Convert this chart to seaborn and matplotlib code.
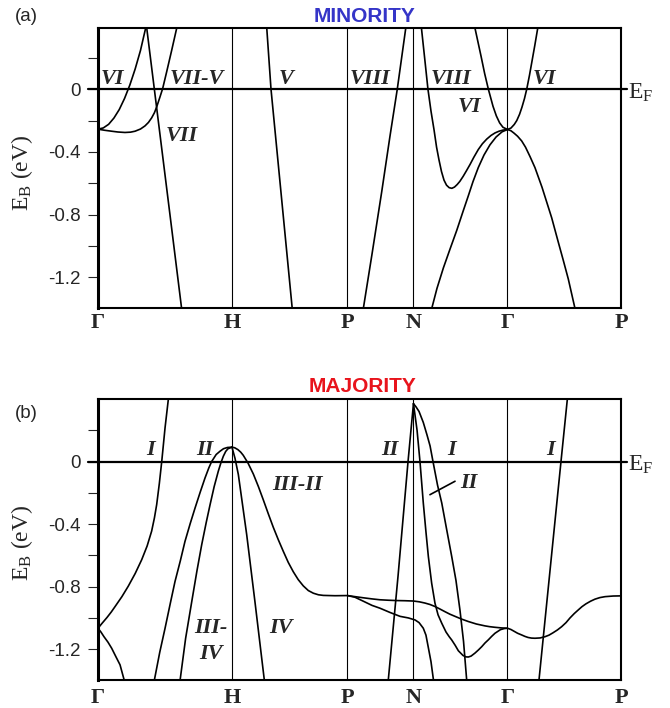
import matplotlib
matplotlib.use("Agg")
import matplotlib.pyplot as plt
import numpy as np
import pandas as pd
import seaborn as sns

# ---------------- data ----------------
SYM_LABELS = ["Γ", "H", "P", "N", "Γ", "P"]
SYM_K = [0.0, 1.009, 1.879, 2.376, 3.084, 3.939]

YTICKS = [0.2, 0.0, -0.2, -0.4, -0.6, -0.8, -1.0, -1.2]
YTICK_LABELS = ["", "0", "", "-0.4", "", "-0.8", "", "-1.2"]

# ---- (a) minority bands ----
a_VI_k = [0.0, 0.04, 0.08, 0.12, 0.16, 0.20, 0.24, 0.28, 0.32, 0.359]
a_VI_E = [-0.255, -0.247, -0.224, -0.184, -0.130, -0.059, 0.027, 0.129, 0.247, 0.39]

a_VII_k = [0.367, 0.542, 0.630]
a_VII_E = [0.39, -0.80, -1.40]

a_VIIV_k = [0.0, 0.05, 0.103, 0.15, 0.203, 0.245, 0.279, 0.32, 0.354, 0.38, 0.404,
            0.425, 0.442, 0.467, 0.487, 0.517, 0.555, 0.593]
a_VIIV_E = [-0.255, -0.262, -0.268, -0.273, -0.276, -0.274, -0.268, -0.254, -0.234,
            -0.212, -0.183, -0.15, -0.113, -0.049, 0.004, 0.11, 0.248, 0.39]

a_V_k = [1.271, 1.303, 1.463]
a_V_E = [0.39, 0.0, -1.40]

a_VIIIL_k = [1.998, 2.064, 2.137, 2.199, 2.254, 2.318]
a_VIIIL_E = [-1.40, -1.05, -0.653, -0.30, 0.0, 0.39]

a_VIIIR_k = [2.436, 2.460, 2.485, 2.508, 2.531, 2.550, 2.568, 2.587, 2.606, 2.625,
             2.645, 2.665, 2.685, 2.705, 2.725, 2.750, 2.775, 2.802, 2.830, 2.864,
             2.895, 2.928, 2.960, 2.990, 3.020, 3.050, 3.084]
a_VIIIR_E = [0.39, 0.20, 0.0, -0.14, -0.26, -0.37, -0.45, -0.525, -0.58, -0.612,
             -0.628, -0.632, -0.624, -0.608, -0.588, -0.556, -0.52, -0.48, -0.435, -0.385,
             -0.348, -0.318, -0.295, -0.279, -0.268, -0.261, -0.257]

a_low_k = [2.513, 2.553, 2.601, 2.651, 2.702, 2.749, 2.789, 2.824, 2.864, 2.907,
           2.952, 2.998, 3.043, 3.084]
a_low_E = [-1.40, -1.27, -1.14, -1.02, -0.90, -0.78, -0.68, -0.59, -0.50, -0.42,
           -0.355, -0.305, -0.272, -0.257]

a_down_k = [3.084, 3.110, 3.133, 3.160, 3.191, 3.220, 3.254, 3.291, 3.344, 3.417,
            3.465, 3.504, 3.542, 3.593]
a_down_E = [-0.257, -0.265, -0.28, -0.30, -0.33, -0.37, -0.43, -0.50, -0.625, -0.82,
            -0.97, -1.09, -1.21, -1.40]

a_VIG_k = [2.839, 2.862, 2.885, 2.912, 2.940, 2.975, 3.000, 3.025, 3.050, 3.084,
           3.110, 3.135, 3.154, 3.175, 3.193, 3.212, 3.229, 3.250, 3.269, 3.290, 3.312]
a_VIG_E = [0.39, 0.30, 0.21, 0.10, 0.0, -0.109, -0.17, -0.215, -0.243, -0.257,
           -0.248, -0.225, -0.20, -0.16, -0.115, -0.06, 0.0, 0.09, 0.18, 0.28, 0.39]

# ---- (b) majority bands ----
b_I_k = [0.0, 0.03, 0.068, 0.10, 0.128, 0.18, 0.228, 0.28, 0.329, 0.37, 0.404,
         0.425, 0.442, 0.462, 0.480, 0.505, 0.530]
b_I_E = [-1.066, -1.035, -0.997, -0.962, -0.928, -0.864, -0.797, -0.716, -0.628, -0.54,
         -0.445, -0.36, -0.275, -0.14, 0.0, 0.216, 0.40]

b_down_k = [0.0, 0.022, 0.045, 0.075, 0.103, 0.136, 0.166, 0.198]
b_down_E = [-1.066, -1.09, -1.12, -1.155, -1.194, -1.25, -1.30, -1.40]

b_II_k = [0.424, 0.465, 0.505, 0.545, 0.580, 0.620, 0.655, 0.695, 0.731, 0.770,
          0.806, 0.835, 0.856, 0.890, 0.919, 0.945, 0.975, 1.009]
b_II_E = [-1.40, -1.22, -1.066, -0.905, -0.767, -0.635, -0.511, -0.395, -0.297, -0.195,
          -0.105, -0.04, 0.0, 0.045, 0.066, 0.082, 0.09, 0.092]

b_IIIIV_k = [0.618, 0.660, 0.706, 0.745, 0.781, 0.815, 0.844, 0.875, 0.906, 0.925,
             0.944, 0.962, 0.979, 1.009]
b_IIIIV_E = [-1.40, -1.13, -0.896, -0.70, -0.532, -0.39, -0.276, -0.16, -0.062, -0.01,
             0.034, 0.065, 0.082, 0.092]

b_IIIII_k = [1.009, 1.030, 1.054, 1.075, 1.094, 1.130, 1.170, 1.208, 1.245, 1.283,
             1.320, 1.358, 1.396, 1.433, 1.471, 1.508, 1.546, 1.584, 1.622, 1.660,
             1.697, 1.785, 1.879]
b_IIIII_E = [0.092, 0.088, 0.076, 0.06, 0.04, -0.01, -0.08, -0.16, -0.245, -0.335,
             -0.42, -0.50, -0.575, -0.645, -0.705, -0.755, -0.795, -0.825, -0.842, -0.852,
             -0.856, -0.858, -0.857]

b_IV_k = [1.009, 1.032, 1.057, 1.120, 1.182, 1.253]
b_IV_E = [0.092, 0.02, -0.083, -0.468, -0.896, -1.40]

b_flat_k = [1.879, 1.936, 1.996, 2.060, 2.124, 2.190, 2.250, 2.310, 2.376, 2.420,
            2.463, 2.500, 2.538, 2.575, 2.613, 2.650, 2.689, 2.740, 2.789, 2.850,
            2.915, 2.950, 2.990, 3.040, 3.084, 3.110, 3.133, 3.160, 3.191, 3.215,
            3.239, 3.265, 3.291, 3.330, 3.367, 3.397, 3.427, 3.460, 3.492, 3.525,
            3.555, 3.587, 3.617, 3.645, 3.675, 3.710, 3.743, 3.780, 3.819, 3.880, 3.939]
b_flat_E = [-0.857, -0.864, -0.871, -0.878, -0.884, -0.887, -0.889, -0.890, -0.892, -0.897,
            -0.905, -0.914, -0.927, -0.943, -0.96, -0.976, -0.99, -1.008, -1.023, -1.039,
            -1.051, -1.056, -1.06, -1.064, -1.066, -1.074, -1.085, -1.098, -1.109, -1.118,
            -1.125, -1.129, -1.13, -1.128, -1.12, -1.11, -1.095, -1.077, -1.056, -1.03,
            -1.0, -0.972, -0.949, -0.928, -0.91, -0.893, -0.88, -0.87, -0.864, -0.86, -0.859]

b_low_k = [1.879, 1.936, 1.998, 2.064, 2.124, 2.199, 2.275, 2.337, 2.388, 2.418,
           2.450, 2.470, 2.488, 2.508, 2.527]
b_low_E = [-0.857, -0.868, -0.893, -0.92, -0.938, -0.965, -0.99, -1.0, -1.013, -1.03,
           -1.066, -1.11, -1.19, -1.28, -1.40]

b_IIL_k = [2.186, 2.260, 2.335, 2.357, 2.376]
b_IIL_E = [-1.40, -0.73, 0.0, 0.2, 0.37]

b_II2_k = [2.376, 2.403, 2.425, 2.450, 2.470, 2.488, 2.513, 2.538, 2.561, 2.589,
           2.621, 2.645, 2.664, 2.690, 2.714, 2.749, 2.770, 2.789, 2.810, 2.839,
           2.865, 2.890, 2.915, 2.940, 2.965, 2.990, 3.031, 3.060, 3.084]
b_II2_E = [0.37, 0.2, 0.0, -0.265, -0.45, -0.607, -0.778, -0.906, -0.98, -1.034,
           -1.09, -1.12, -1.141, -1.175, -1.21, -1.24, -1.249, -1.25, -1.244, -1.225,
           -1.205, -1.184, -1.16, -1.14, -1.118, -1.098, -1.075, -1.068, -1.066]

b_IN_k = [2.376, 2.395, 2.418, 2.450, 2.478, 2.501, 2.523, 2.557, 2.589, 2.625,
          2.664, 2.696, 2.726, 2.753, 2.777]
b_IN_E = [0.37, 0.35, 0.32, 0.25, 0.17, 0.10, 0.0, -0.15, -0.265, -0.43,
          -0.607, -0.76, -0.949, -1.15, -1.40]

b_IG_k = [3.321, 3.487, 3.535]
b_IG_E = [-1.40, 0.0, 0.40]

# band labels: (text, k, E)
A_LABELS = [("VI", 0.105, 0.03), ("VII-V", 0.746, 0.03), ("VII", 0.633, -0.33),
            ("V", 1.416, 0.03), ("VIII", 2.049, 0.03), ("VIII", 2.659, 0.03),
            ("VI", 2.794, -0.145), ("VI", 3.359, 0.03)]
B_LABELS = [("I", 0.399, 0.045), ("II", 0.806, 0.045), ("III-II", 1.506, -0.179),
            ("III-", 0.851, -1.098), ("IV", 0.851, -1.265), ("IV", 1.378, -1.098),
            ("II", 2.199, 0.045), ("I", 2.666, 0.045), ("II", 2.787, -0.169),
            ("I", 3.412, 0.045)]
B_POINTER_k = [2.689, 2.500]
B_POINTER_E = [-0.126, -0.212]


def band_frame(bands):
    parts = [pd.DataFrame({"k": ks, "E": es, "band": name}) for name, ks, es in bands]
    return pd.concat(parts, ignore_index=True)


df_a = band_frame([
    ("VI", a_VI_k, a_VI_E), ("VII", a_VII_k, a_VII_E), ("VII-V", a_VIIV_k, a_VIIV_E),
    ("V", a_V_k, a_V_E), ("VIIIL", a_VIIIL_k, a_VIIIL_E), ("VIIIR", a_VIIIR_k, a_VIIIR_E),
    ("low", a_low_k, a_low_E), ("down", a_down_k, a_down_E), ("VIG", a_VIG_k, a_VIG_E),
])
df_b = band_frame([
    ("I", b_I_k, b_I_E), ("down", b_down_k, b_down_E), ("II", b_II_k, b_II_E),
    ("III-IV", b_IIIIV_k, b_IIIIV_E), ("III-II", b_IIIII_k, b_IIIII_E), ("IV", b_IV_k, b_IV_E),
    ("flat", b_flat_k, b_flat_E), ("low", b_low_k, b_low_E), ("IIL", b_IIL_k, b_IIL_E),
    ("II2", b_II2_k, b_II2_E), ("IN", b_IN_k, b_IN_E), ("IG", b_IG_k, b_IG_E),
])

# ---------------- drawing ----------------
sns.set_style("ticks")
plt.rcParams["font.family"] = ["Liberation Sans", "DejaVu Sans"]
plt.rcParams["mathtext.fontset"] = "custom"
plt.rcParams["mathtext.rm"] = "Liberation Serif"

SERIF = "Liberation Serif"
W, H = 670, 708
fig = plt.figure(figsize=(W / 100, H / 100), dpi=100)
ax_a = fig.add_axes([98 / W, 1 - 308 / H, 523 / W, 280 / H])
ax_b = fig.add_axes([98 / W, 1 - 680 / H, 523 / W, 281 / H])


def style(ax, df, ylim, xpad):
    sns.lineplot(data=df, x="k", y="E", units="band", estimator=None, sort=False,
                 color="black", lw=1.2, ax=ax, legend=False)
    for k in SYM_K[1:-1]:
        ax.axvline(k, color="black", lw=0.8, zorder=1)
    ax.axhline(0, xmin=-0.019, xmax=1.0115, color="black", lw=1.6, clip_on=False)
    ax.set_xlim(SYM_K[0], SYM_K[-1])
    ax.set_ylim(*ylim)
    ax.set_xticks(SYM_K)
    ax.set_xticklabels(SYM_LABELS, fontfamily=SERIF, fontweight="bold", fontsize=16)
    ax.set_yticks(YTICKS)
    ax.set_yticklabels(YTICK_LABELS, fontsize=13.5)
    ax.tick_params(axis="x", length=0, pad=xpad)
    ax.tick_params(axis="y", direction="out", length=7.2, width=0.8, pad=5.5)
    ax.set_xlabel("")
    ax.set_ylabel("")
    for s in ax.spines.values():
        s.set_linewidth(1.5)
        s.set_color("black")
    ax.spines["left"].set_linewidth(2.2)
    ax.text(3.992, -0.06, r"$\mathregular{E_F}$", fontfamily=SERIF, fontsize=17,
            ha="left", va="baseline", clip_on=False)


style(ax_a, df_a, (-1.395, 0.39), 3.5)
style(ax_b, df_b, (-1.397, 0.40), 5.5)

lab_font = dict(fontfamily=SERIF, fontweight="bold", fontstyle="italic", fontsize=16)
for t, k, e in A_LABELS:
    ax_a.text(k, e, t, ha="center", va="baseline", **lab_font)
for t, k, e in B_LABELS:
    ha = "left" if (t == "II" and e < 0) else "center"
    kk = k - 0.06 if ha == "left" else k
    ax_b.text(kk, e, t, ha=ha, va="baseline", **lab_font)
ax_b.plot(B_POINTER_k, B_POINTER_E, color="black", lw=1.2)

# titles, panel letters, y labels
fig.text(365 / W, 1 - 22 / H, "MINORITY", ha="center", va="baseline",
         color="#3535c8", fontweight="bold", fontsize=15)
fig.text(363 / W, 1 - 392 / H, "MAJORITY", ha="center", va="baseline",
         color="#e8141c", fontweight="bold", fontsize=15)
fig.text(15 / W, 1 - 21 / H, "(a)", ha="left", va="baseline", fontsize=13.5)
fig.text(15 / W, 1 - 418 / H, "(b)", ha="left", va="baseline", fontsize=13.5)
for yc in (173, 543):
    fig.text(22.5 / W, 1 - yc / H, r"$\mathregular{E_B}$ (eV)", rotation=90,
             ha="center", va="center", fontfamily=SERIF, fontsize=17)

fig.savefig("out.png", dpi=100)
